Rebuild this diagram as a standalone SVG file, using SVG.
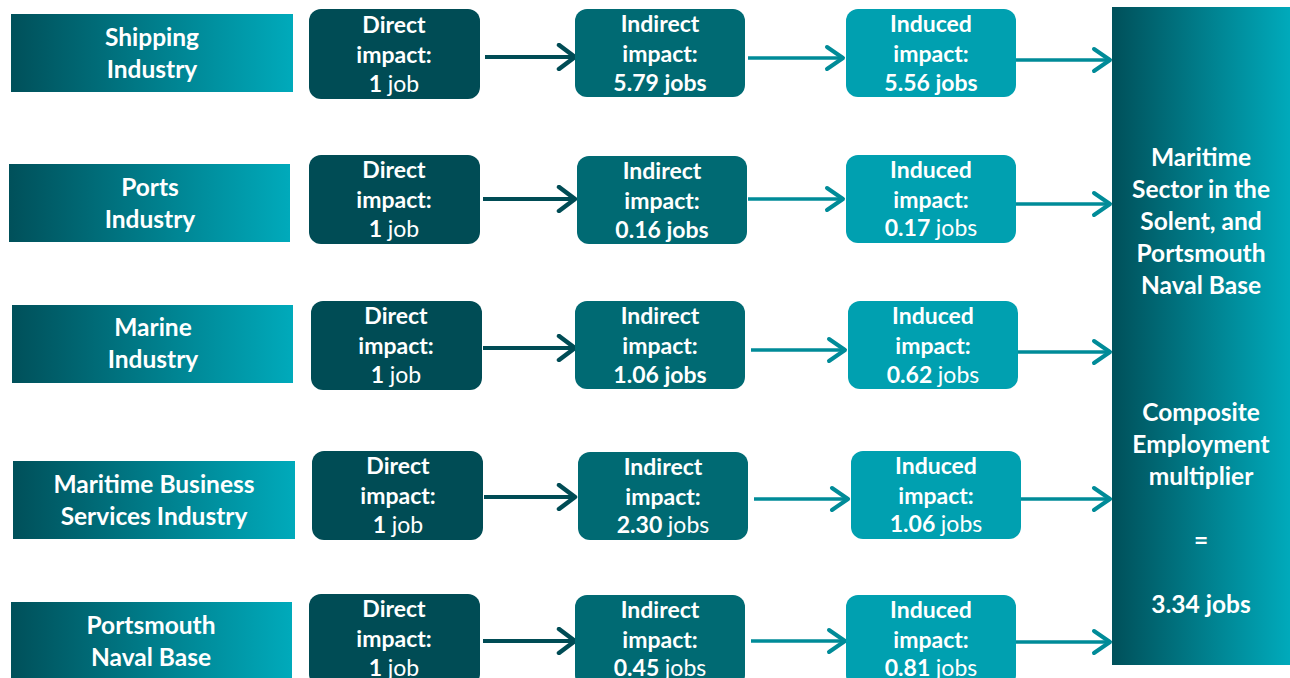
<svg xmlns="http://www.w3.org/2000/svg" width="1290" height="678" viewBox="0 0 1290 678">
<style>
.t{font-family:Lato,"Liberation Sans",sans-serif;font-weight:bold;fill:#fff;text-anchor:middle}
.s{font-size:23px}
.l{font-size:24.5px}
.r{font-size:24.5px}
.n{font-weight:normal}
.d{fill:#004c55}
.i{fill:#006a73}
.u{fill:#00a0b0}
.a1{stroke:#004c55;stroke-width:4;fill:none;marker-end:url(#m1)}
.a2{stroke:#008b98;stroke-width:3.5;fill:none;marker-end:url(#m2)}
</style>
<defs>
<linearGradient id="g" x1="0" y1="0" x2="1" y2="0">
<stop offset="0" stop-color="#00505a"/>
<stop offset="1" stop-color="#00aabb"/>
</linearGradient>
<marker id="m1" markerUnits="userSpaceOnUse" markerWidth="24" markerHeight="28" refX="20" refY="14" orient="auto" viewBox="0 0 24 28">
<path d="M4,2 L20,14 L4,26" fill="none" stroke="#004c55" stroke-width="4.5" stroke-linecap="round" stroke-linejoin="round"/>
</marker>
<marker id="m2" markerUnits="userSpaceOnUse" markerWidth="24" markerHeight="28" refX="20" refY="14" orient="auto" viewBox="0 0 24 28">
<path d="M4,3 L20,14 L4,25" fill="none" stroke="#008b98" stroke-width="4" stroke-linecap="round" stroke-linejoin="round"/>
</marker>
</defs>
<rect width="1290" height="678" fill="#fff"/>

<g id="connectors">
<path class="a1" d="M485,57 H575"/>
<path class="a2" d="M748,58 H843"/>
<path class="a2" d="M1016,60 H1110"/>
<path class="a1" d="M483,199 H575"/>
<path class="a2" d="M748,199 H843"/>
<path class="a2" d="M1016,204 H1110"/>
<path class="a1" d="M483,348 H575"/>
<path class="a2" d="M751,350 H845"/>
<path class="a2" d="M1018,352 H1110"/>
<path class="a1" d="M484,497 H575"/>
<path class="a2" d="M754,499 H848"/>
<path class="a2" d="M1021,499 H1110"/>
<path class="a1" d="M483,641 H575"/>
<path class="a2" d="M751,641 H845"/>
<path class="a2" d="M1016,642 H1110"/>
</g>

<!-- Row 1 -->
<g id="shipping"><rect x="11" y="14" width="282" height="78" fill="url(#g)"/>
<text class="t l" x="152" y="46">Shipping</text><text class="t l" x="152" y="78">Industry</text></g>
<g id="direct1"><rect class="d" x="309" y="9" width="171" height="90" rx="12"/>
<text class="t s" x="394" y="33">Direct</text><text class="t s" x="394" y="63">impact:</text><text class="t s" x="394" y="92">1 <tspan class="n">job</tspan></text></g>
<g id="indirect1"><rect class="i" x="575" y="9" width="170" height="88" rx="12"/>
<text class="t s" x="660" y="32">Indirect</text><text class="t s" x="660" y="62">impact:</text><text class="t s" x="660" y="91">5.79 jobs</text></g>
<g id="induced1"><rect class="u" x="846" y="9" width="170" height="88" rx="12"/>
<text class="t s" x="931" y="32">Induced</text><text class="t s" x="931" y="62">impact:</text><text class="t s" x="931" y="91">5.56 jobs</text></g>

<!-- Row 2 -->
<g id="ports"><rect x="9" y="164" width="281" height="78" fill="url(#g)"/>
<text class="t l" x="150" y="196">Ports</text><text class="t l" x="150" y="228">Industry</text></g>
<g id="direct2"><rect class="d" x="309" y="155" width="171" height="89" rx="12"/>
<text class="t s" x="394" y="178">Direct</text><text class="t s" x="394" y="208">impact:</text><text class="t s" x="394" y="237">1 <tspan class="n">job</tspan></text></g>
<g id="indirect2"><rect class="i" x="577" y="156" width="170" height="88" rx="12"/>
<text class="t s" x="662" y="179">Indirect</text><text class="t s" x="662" y="209">impact:</text><text class="t s" x="662" y="238">0.16 jobs</text></g>
<g id="induced2"><rect class="u" x="846" y="155" width="170" height="88" rx="12"/>
<text class="t s" x="931" y="178">Induced</text><text class="t s" x="931" y="208">impact:</text><text class="t s" x="931" y="236">0.17 <tspan class="n">jobs</tspan></text></g>

<!-- Row 3 -->
<g id="marine"><rect x="12" y="305" width="281" height="78" fill="url(#g)"/>
<text class="t l" x="153" y="336">Marine</text><text class="t l" x="153" y="368">Industry</text></g>
<g id="direct3"><rect class="d" x="311" y="301" width="171" height="89" rx="12"/>
<text class="t s" x="396" y="324">Direct</text><text class="t s" x="396" y="354">impact:</text><text class="t s" x="396" y="383">1 <tspan class="n">job</tspan></text></g>
<g id="indirect3"><rect class="i" x="575" y="301" width="170" height="88" rx="12"/>
<text class="t s" x="660" y="324">Indirect</text><text class="t s" x="660" y="354">impact:</text><text class="t s" x="660" y="383">1.06 jobs</text></g>
<g id="induced3"><rect class="u" x="848" y="301" width="170" height="88" rx="12"/>
<text class="t s" x="933" y="324">Induced</text><text class="t s" x="933" y="354">impact:</text><text class="t s" x="933" y="383">0.62 <tspan class="n">jobs</tspan></text></g>

<!-- Row 4 -->
<g id="mbs"><rect x="13" y="461" width="282" height="78" fill="url(#g)"/>
<text class="t l" x="154" y="493">Maritime Business</text><text class="t l" x="154" y="525">Services Industry</text></g>
<g id="direct4"><rect class="d" x="312" y="451" width="171" height="89" rx="12"/>
<text class="t s" x="398" y="474">Direct</text><text class="t s" x="398" y="504">impact:</text><text class="t s" x="398" y="533">1 <tspan class="n">job</tspan></text></g>
<g id="indirect4"><rect class="i" x="578" y="452" width="170" height="88" rx="12"/>
<text class="t s" x="663" y="475">Indirect</text><text class="t s" x="663" y="505">impact:</text><text class="t s" x="663" y="533">2.30 <tspan class="n">jobs</tspan></text></g>
<g id="induced4"><rect class="u" x="851" y="451" width="170" height="88" rx="12"/>
<text class="t s" x="936" y="474">Induced</text><text class="t s" x="936" y="504">impact:</text><text class="t s" x="936" y="532">1.06 <tspan class="n">jobs</tspan></text></g>

<!-- Row 5 -->
<g id="naval"><rect x="11" y="602" width="281" height="80" fill="url(#g)"/>
<text class="t l" x="151" y="634">Portsmouth</text><text class="t l" x="151" y="666">Naval Base</text></g>
<g id="direct5"><rect class="d" x="309" y="594" width="171" height="92" rx="12"/>
<text class="t s" x="394" y="617">Direct</text><text class="t s" x="394" y="647">impact:</text><text class="t s" x="394" y="676">1 <tspan class="n">job</tspan></text></g>
<g id="indirect5"><rect class="i" x="575" y="595" width="170" height="92" rx="12"/>
<text class="t s" x="660" y="618">Indirect</text><text class="t s" x="660" y="648">impact:</text><text class="t s" x="660" y="676">0.45 <tspan class="n">jobs</tspan></text></g>
<g id="induced5"><rect class="u" x="846" y="595" width="170" height="92" rx="12"/>
<text class="t s" x="931" y="618">Induced</text><text class="t s" x="931" y="648">impact:</text><text class="t s" x="931" y="676">0.81 <tspan class="n">jobs</tspan></text></g>

<!-- Right panel -->
<g id="maritime-sector"><rect x="1112" y="7" width="178" height="658" fill="url(#g)"/>
<text class="t r" x="1201" y="166">Maritime</text>
<text class="t r" x="1201" y="198">Sector in the</text>
<text class="t r" x="1201" y="230">Solent, and</text>
<text class="t r" x="1201" y="262">Portsmouth</text>
<text class="t r" x="1201" y="294">Naval Base</text>
<text class="t r" x="1201" y="421">Composite</text>
<text class="t r" x="1201" y="453">Employment</text>
<text class="t r" x="1201" y="485">multiplier</text>
<text class="t r" x="1201" y="549">=</text>
<text class="t r" x="1201" y="613">3.34 jobs</text>
</g>
</svg>
